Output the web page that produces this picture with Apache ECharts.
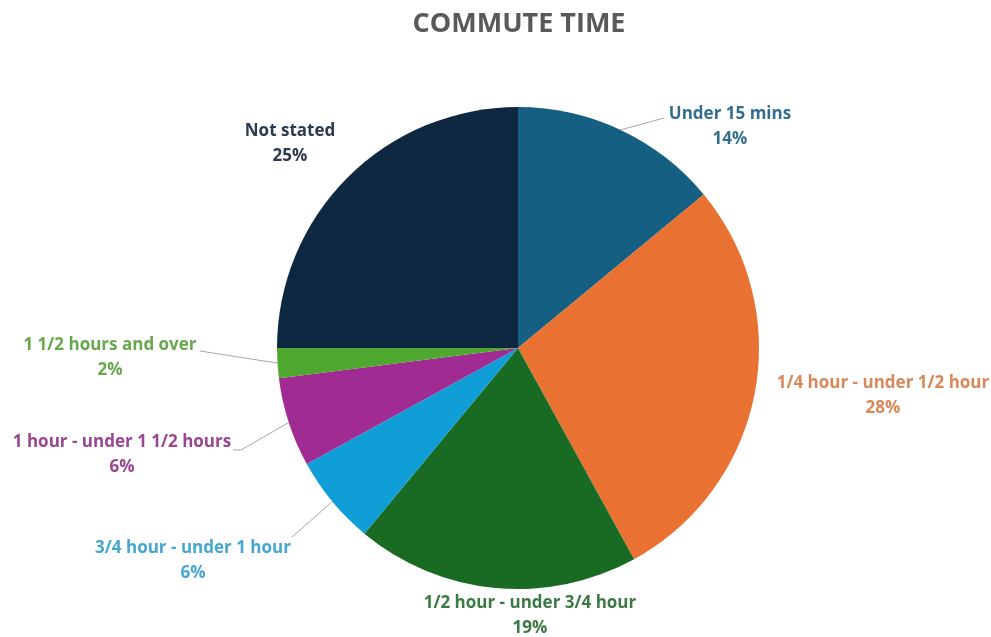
<!DOCTYPE html>
<html>
<head>
<meta charset="utf-8">
<script src="https://cdn.jsdelivr.net/npm/echarts@6/dist/echarts.min.js"></script>
<style>
  html, body { margin: 0; padding: 0; background: #ffffff; }
  #chart { width: 991px; height: 637px; }
</style>
</head>
<body>
<div id="chart"></div>
<script>
// Commute time shares (percent of respondents)
const categories = [
  'Under 15 mins',
  '1/4 hour - under 1/2 hour',
  '1/2 hour - under 3/4 hour',
  '3/4 hour - under 1 hour',
  '1 hour - under 1 1/2 hours',
  '1 1/2 hours and over',
  'Not stated'
];
const shares = [14, 28, 19, 6, 6, 2, 25];

const sliceColors = ['#156082', '#E97132', '#196B24', '#0F9ED5', '#A02B93', '#4EA72E', '#0E2841'];
const labelColors = ['#336f8c', '#d9885a', '#3b7a44', '#45a7d0', '#97468f', '#67a74d', '#2b3b4d'];

// Label centres (px) and the end of each leader line, if any
const labelPos = [
  { x: 730, y: 127, lineEnd: [664, 118] },
  { x: 883, y: 396 },
  { x: 530, y: 616 },
  { x: 193, y: 561, lineEnd: [292, 537] },
  { x: 122, y: 455, lineEnd: [241, 450], bend: [233, 450] },
  { x: 110, y: 358, lineEnd: [200, 351] },
  { x: 290, y: 144 }
];

const chart = echarts.init(document.getElementById('chart'), null, { renderer: 'canvas' });

chart.setOption({
  backgroundColor: '#ffffff',
  animation: false,
  title: {
    text: 'COMMUTE TIME',
    left: 514,
    textAlign: 'center',
    top: 6,
    textStyle: {
      fontFamily: 'Open Sans',
      fontWeight: 'bold',
      fontSize: 27,
      color: '#595959'
    }
  },
  series: [{
    type: 'pie',
    center: [518, 348],
    radius: [0, 241],
    startAngle: 90,
    clockwise: true,
    avoidLabelOverlap: false,
    data: categories.map((name, i) => ({
      name,
      value: shares[i],
      itemStyle: { color: sliceColors[i] },
      label: { color: labelColors[i] },
      labelLine: { show: !!labelPos[i].lineEnd }
    })),
    itemStyle: { borderWidth: 0 },
    label: {
      show: true,
      position: 'outside',
      formatter: '{b}\n{d}%',
      fontFamily: 'Open Sans',
      fontWeight: 'bold',
      fontSize: 17,
      lineHeight: 25,
      align: 'center'
    },
    labelLine: {
      show: true,
      lineStyle: { color: '#a6a6a6', width: 1 }
    },
    labelLayout: function (params) {
      const p = labelPos[params.dataIndex];
      const out = { x: p.x, y: p.y, align: 'center', verticalAlign: 'middle' };
      if (p.lineEnd && params.labelLinePoints) {
        const start = params.labelLinePoints[0];
        const end = p.bend ? p.bend : p.lineEnd;
        out.labelLinePoints = [start, p.lineEnd, end];
      }
      return out;
    }
  }]
});
</script>
</body>
</html>
